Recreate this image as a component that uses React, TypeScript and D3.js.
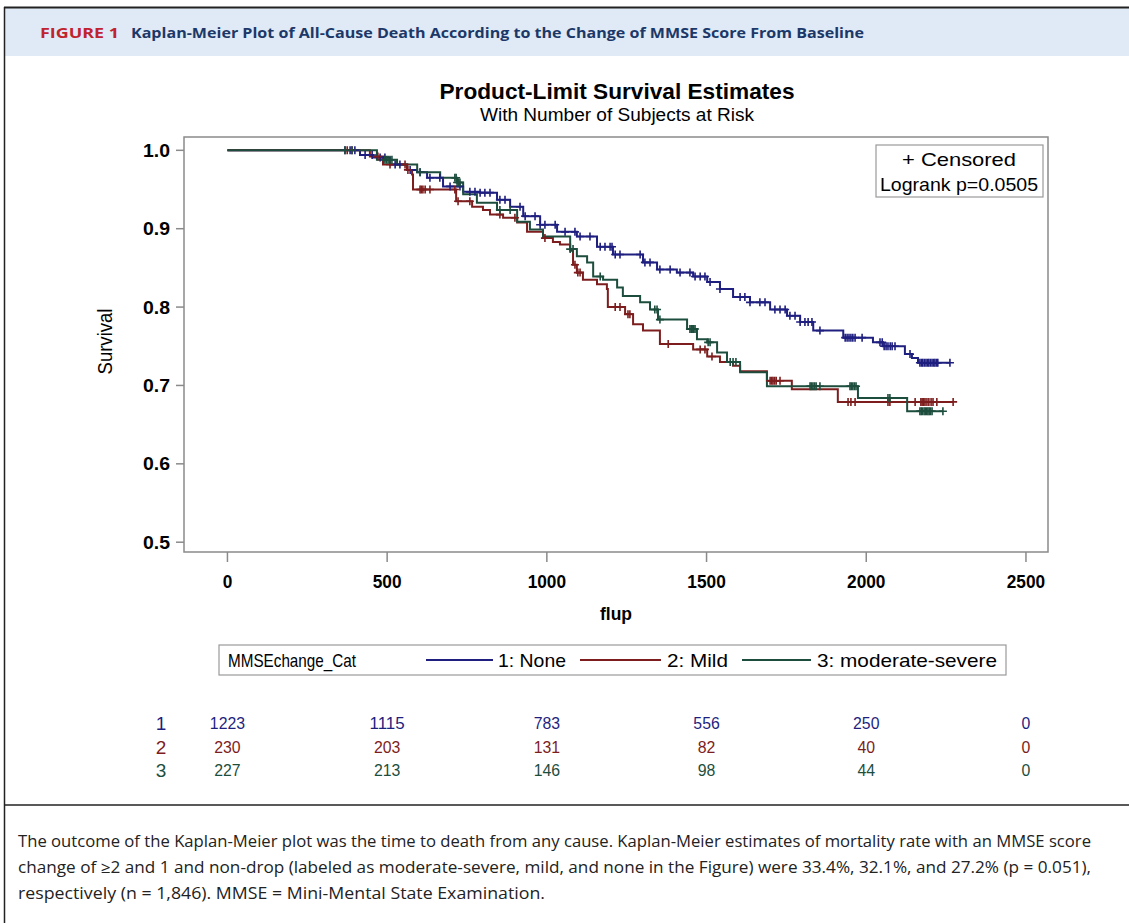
import { scaleLinear, line, curveStepAfter } from 'd3'

// tick values
const xTicks = [0, 500, 1000, 1500, 2000, 2500]
const yTicks = [0.5, 0.6, 0.7, 0.8, 0.9, 1.0]

// group labels
const groupIds = ['1', '2', '3']
const groupNames = ['1: None', '2: Mild', '3: moderate-severe']
const groupColors = ['#1f1f80', '#7d1d1d', '#1d4e3d']

// KM event steps: [day, survival after the drop]
const noneSteps = [
  [415, 0.994], [456, 0.991], [509, 0.982], [562, 0.975], [594, 0.972], [625, 0.965], [675, 0.954],
  [738, 0.947], [791, 0.946], [844, 0.937], [885, 0.928], [926, 0.916], [979, 0.905], [1032, 0.896],
  [1094, 0.89], [1157, 0.877], [1207, 0.867], [1301, 0.857], [1345, 0.848], [1407, 0.844], [1458, 0.839],
  [1502, 0.832], [1542, 0.823], [1583, 0.813], [1636, 0.806], [1699, 0.797], [1752, 0.789], [1793, 0.781],
  [1834, 0.77], [1928, 0.761], [2021, 0.755], [2052, 0.75], [2121, 0.74], [2143, 0.735], [2162, 0.729],
]
const mildSteps = [
  [446, 0.992], [487, 0.982], [562, 0.975], [578, 0.969], [581, 0.95], [716, 0.935], [766, 0.928],
  [800, 0.924], [822, 0.918], [863, 0.914], [907, 0.908], [938, 0.896], [988, 0.888], [1019, 0.883],
  [1041, 0.88], [1073, 0.872], [1082, 0.854], [1094, 0.844], [1113, 0.835], [1157, 0.829], [1188, 0.823],
  [1191, 0.8], [1245, 0.791], [1270, 0.778], [1301, 0.77], [1354, 0.753], [1458, 0.746], [1502, 0.737],
  [1542, 0.73], [1583, 0.725], [1605, 0.718], [1689, 0.706], [1767, 0.695], [1911, 0.679],
]
const modSteps = [
  [468, 0.988], [531, 0.982], [594, 0.972], [666, 0.965], [719, 0.959], [738, 0.944], [781, 0.933],
  [844, 0.924], [907, 0.909], [947, 0.899], [988, 0.89], [1073, 0.874], [1094, 0.865], [1126, 0.857],
  [1145, 0.839], [1176, 0.835], [1220, 0.825], [1238, 0.814], [1292, 0.806], [1323, 0.797], [1348, 0.784],
  [1439, 0.772], [1470, 0.759], [1502, 0.755], [1533, 0.742], [1564, 0.73], [1605, 0.717], [1689, 0.699],
  [1974, 0.684], [2128, 0.667],
]
const lastTimes = [2262, 2272, 2240]

// censored times
const noneCensor = [
  368, 384, 399, 431, 453, 478, 493, 525, 540, 572, 603, 634, 665, 697, 728, 759, 775, 791, 806, 822,
  853, 869, 916, 932, 963, 979, 994, 1026, 1057, 1088, 1104, 1135, 1167, 1182, 1198, 1204, 1214, 1229,
  1292, 1307, 1323, 1354, 1386, 1417, 1448, 1464, 1480, 1495, 1511, 1542, 1605, 1620, 1636, 1667, 1683,
  1714, 1730, 1746, 1761, 1777, 1793, 1808, 1818, 1830, 1855, 1934, 1940, 1946, 1952, 1958, 1965, 1987,
  2043, 2050, 2056, 2062, 2068, 2075, 2081, 2090, 2137, 2168, 2173, 2177, 2182, 2187, 2192, 2196, 2201,
  2206, 2211, 2215, 2220, 2224, 2262,
]
const mildCensor = [
  375, 390, 471, 509, 556, 565, 603, 607, 612, 619, 634, 712, 722, 759, 853, 900, 994, 1088, 1097, 1104,
  1214, 1229, 1254, 1260, 1380, 1480, 1495, 1517, 1699, 1704, 1708, 1713, 1718, 1730, 1943, 1952, 1965,
  2068, 2074, 2153, 2171, 2175, 2180, 2184, 2190, 2196, 2203, 2209, 2221, 2272,
]
const modCensor = [
  368, 390, 493, 498, 503, 509, 515, 603, 712, 716, 719, 724, 728, 853, 885, 1073, 1082, 1167, 1338, 1345,
  1354, 1448, 1452, 1455, 1460, 1464, 1505, 1511, 1574, 1583, 1592, 1824, 1828, 1833, 1838, 1843, 1855,
  1949, 1953, 1958, 1963, 1968, 2068, 2074, 2168, 2172, 2176, 2181, 2185, 2189, 2193, 2197, 2201, 2206,
  2240,
]

// number at risk at each x tick
const atRiskNone = [1223, 1115, 783, 556, 250, 0]
const atRiskMild = [230, 203, 131, 82, 40, 0]
const atRiskMod = [227, 213, 146, 98, 44, 0]

const captionLines = [
  'The outcome of the Kaplan-Meier plot was the time to death from any cause. Kaplan-Meier estimates of mortality rate with an MMSE score',
  'change of \u22652 and 1 and non-drop (labeled as moderate-severe, mild, and none in the Figure) were 33.4%, 32.1%, and 27.2% (p = 0.051),',
  'respectively (n = 1,846). MMSE = Mini-Mental State Examination.',
]

const W = 1129
const H = 923
const SAS = '"Liberation Sans", Arial, sans-serif'
const CAP = '"Open Sans", "Noto Sans", sans-serif'

const App = () => {
  const plot = { left: 184, right: 1048, top: 137, bottom: 552 }
  const x = scaleLinear().domain([-136, 2569]).range([plot.left, plot.right])
  const y = scaleLinear().domain([0.4875, 1.017]).range([plot.bottom, plot.top])

  const stepsList = [noneSteps, mildSteps, modSteps]
  const censorList = [noneCensor, mildCensor, modCensor]
  const atRiskList = [atRiskNone, atRiskMild, atRiskMod]

  const survAt = (steps: number[][], t: number) => {
    let s = 1
    for (const [st, sv] of steps) {
      if (st <= t) s = sv
    }
    return s
  }

  const pathGen = line<number[]>()
    .x(d => x(d[0]))
    .y(d => y(d[1]))
    .curve(curveStepAfter)

  const curves = stepsList.map((steps, i) => {
    const pts = [[0, 1], ...steps, [lastTimes[i], steps[steps.length - 1][1]]]
    return pathGen(pts) || ''
  })

  const axisColor = '#8a8a8a'
  const legendY = 660

  return (
    <svg width={W} height={H} style={{ position: 'absolute', left: 0, top: 0, background: '#fff' }}>
      {/* figure header */}
      <rect x={5} y={8} width={W - 5} height={48} fill="#dfeaf6" />
      <line x1={4} x2={W} y1={7.5} y2={7.5} stroke="#222" strokeWidth={2} />
      <line x1={4.5} x2={4.5} y1={7} y2={H} stroke="#222" strokeWidth={1.5} />
      <text x={40} y={38} fontFamily={CAP} fontWeight={700} fontSize={15} fill="#c0232e"
        textLength={79} lengthAdjust="spacingAndGlyphs">FIGURE 1</text>
      <text x={131} y={38} fontFamily={CAP} fontWeight={700} fontSize={15} fill="#1c3868"
        textLength={733} lengthAdjust="spacingAndGlyphs">
        Kaplan-Meier Plot of All-Cause Death According to the Change of MMSE Score From Baseline
      </text>

      {/* plot titles */}
      <text x={617} y={99} textAnchor="middle" fontFamily={SAS} fontWeight={700} fontSize={22} fill="#000"
        textLength={355} lengthAdjust="spacingAndGlyphs">Product-Limit Survival Estimates</text>
      <text x={617} y={121} textAnchor="middle" fontFamily={SAS} fontSize={17.5} fill="#000"
        textLength={274} lengthAdjust="spacingAndGlyphs">With Number of Subjects at Risk</text>

      {/* frame */}
      <rect x={plot.left} y={plot.top} width={plot.right - plot.left} height={plot.bottom - plot.top}
        fill="none" stroke={axisColor} strokeWidth={1.5} />

      {/* y axis */}
      {yTicks.map(t => (
        <g key={'y' + t}>
          <line x1={plot.left - 8} x2={plot.left} y1={y(t)} y2={y(t)} stroke={axisColor} strokeWidth={1.5} />
          <text x={plot.left - 14} y={y(t) + 6.5} textAnchor="end" fontFamily={SAS} fontWeight={700}
            fontSize={18} fill="#000" textLength={27} lengthAdjust="spacingAndGlyphs">{t.toFixed(1)}</text>
        </g>
      ))}
      <text transform={`translate(112,${(plot.top + plot.bottom) / 2 - 3}) rotate(-90)`} textAnchor="middle"
        fontFamily={SAS} fontSize={20} fill="#000" textLength={66} lengthAdjust="spacingAndGlyphs">Survival</text>

      {/* x axis */}
      {xTicks.map(t => (
        <g key={'x' + t}>
          <line x1={x(t)} x2={x(t)} y1={plot.bottom} y2={plot.bottom + 10} stroke={axisColor} strokeWidth={1.5} />
          <text x={x(t)} y={588} textAnchor="middle" fontFamily={SAS} fontWeight={700} fontSize={18.5}
            fill="#000" textLength={String(t).length * 9.6} lengthAdjust="spacingAndGlyphs">{t}</text>
        </g>
      ))}
      <text x={616} y={620} textAnchor="middle" fontFamily={SAS} fontWeight={700} fontSize={19} fill="#000"
        textLength={32} lengthAdjust="spacingAndGlyphs">flup</text>

      {/* curves */}
      {curves.map((d, i) => (
        <path key={'c' + i} d={d} fill="none" stroke={groupColors[i]} strokeWidth={2} />
      ))}
      {censorList.map((cs, i) => (
        <g key={'cs' + i} stroke={groupColors[i]} strokeWidth={1.6}>
          {cs.map((t, j) => {
            const cx = x(t)
            const cy = y(survAt(stepsList[i], t))
            return (
              <path key={j} d={`M${cx - 4},${cy}H${cx + 4}M${cx},${cy - 4}V${cy + 4}`} />
            )
          })}
        </g>
      ))}

      {/* inset */}
      <rect x={876} y={145} width={167} height={52} fill="#fff" stroke="#9a9a9a" strokeWidth={1.2} />
      <text x={959} y={166} textAnchor="middle" fontFamily={SAS} fontSize={18.5} fill="#000"
        textLength={114} lengthAdjust="spacingAndGlyphs">+ Censored</text>
      <text x={959} y={191} textAnchor="middle" fontFamily={SAS} fontSize={18.5} fill="#000"
        textLength={158} lengthAdjust="spacingAndGlyphs">Logrank p=0.0505</text>

      {/* legend */}
      <rect x={219} y={645} width={787} height={30} fill="#fff" stroke="#9a9a9a" strokeWidth={1.2} />
      <text x={228} y={legendY + 7} fontFamily={SAS} fontSize={19} fill="#000"
        textLength={128} lengthAdjust="spacingAndGlyphs">MMSEchange_Cat</text>
      {[[426, 493, 498, 68], [580, 661, 667, 61], [742, 811, 817, 180]].map(([l1, l2, tx, tl], i) => (
        <g key={'lg' + i}>
          <line x1={l1} x2={l2} y1={legendY} y2={legendY} stroke={groupColors[i]} strokeWidth={2} />
          <text x={tx} y={legendY + 7} fontFamily={SAS} fontSize={19} fill="#000"
            textLength={tl} lengthAdjust="spacingAndGlyphs">{groupNames[i]}</text>
        </g>
      ))}

      {/* number at risk */}
      {atRiskList.map((row, i) => (
        <g key={'r' + i} fill={groupColors[i]} fontFamily={SAS}>
          <text x={161} y={730 + i * 23.5} textAnchor="middle" fontSize={19}>{groupIds[i]}</text>
          {row.map((v, j) => (
            <text key={j} x={x(xTicks[j])} y={729 + i * 23.5} textAnchor="middle" fontSize={16}
              textLength={String(v).length * 8.8} lengthAdjust="spacingAndGlyphs">{v}</text>
          ))}
        </g>
      ))}

      {/* caption */}
      <line x1={4} x2={W} y1={805} y2={805} stroke="#222" strokeWidth={1.5} />
      {captionLines.map((s, i) => (
        <text key={'cap' + i} x={18} y={847 + i * 26} fontFamily={CAP} fontSize={15.5} fill="#222"
          textLength={i < 2 ? 1073 : 527} lengthAdjust="spacingAndGlyphs">{s}</text>
      ))}
    </svg>
  )
}

export default App
